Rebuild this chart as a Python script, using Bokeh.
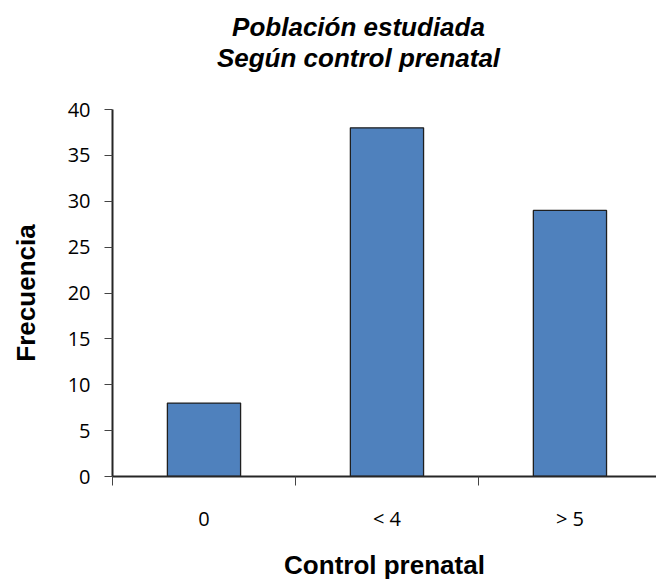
from bokeh.plotting import figure
from bokeh.layouts import column
from bokeh.models import Range1d, FixedTicker, ColumnDataSource
from bokeh.core.properties import value
from bokeh.embed import file_html
from bokeh.resources import INLINE

# Frecuencia por número de controles prenatales
categorias = ["0", "< 4", "> 5"]
frecuencia = [8, 38, 29]
y_ticks = [0, 5, 10, 15, 20, 25, 30, 35, 40]

titulo = ["Población estudiada", "Según control prenatal"]

W, H_TIT, H_TOT, MARGEN_IZQ = 656, 90, 582, 112

# Cabecera con el título en dos líneas (coordenadas en píxeles)
cab = figure(width=W, height=H_TIT,
             x_range=Range1d(MARGEN_IZQ, W), y_range=Range1d(H_TIT, 0),
             output_backend="svg", toolbar_location=None, title=None,
             x_axis_location=None, y_axis_location=None,
             min_border_left=MARGEN_IZQ, min_border_right=0,
             min_border_top=0, min_border_bottom=0,
             outline_line_color=None)
cab.grid.visible = False
cab.text(x=[358, 358], y=[26, 57], text=titulo,
         text_font=value("Liberation Sans"), text_font_style="bold italic",
         text_font_size="26px", text_color="black", text_align="center",
         text_baseline="alphabetic")

centros = [i + 0.5 for i in range(len(categorias))]
source = ColumnDataSource(dict(x=centros, top=frecuencia, cat=categorias))

p = figure(
    width=W, height=H_TOT - H_TIT,
    x_range=Range1d(0, 2.973), y_range=Range1d(0, 40),
    output_backend="svg", toolbar_location=None, title=None,
    min_border_left=MARGEN_IZQ, min_border_right=0,
    min_border_top=109 - H_TIT, min_border_bottom=104,
    outline_line_color=None, background_fill_color="white",
    border_fill_color="white",
)

p.vbar(x="x", top="top", width=0.4, source=source,
       fill_color="#4f81bd", line_color="#1f1f1f", line_width=1.3)

p.xgrid.visible = False
p.ygrid.visible = False

# Eje X: etiquetas al centro de cada categoría, marcas en los límites
xa = p.xaxis[0]
xa.ticker = FixedTicker(ticks=centros, minor_ticks=list(range(len(categorias) + 1)))
xa.major_label_overrides = {c: lab for c, lab in zip(centros, categorias)}
xa.major_tick_out = 0
xa.major_tick_in = 0
xa.minor_tick_out = 9
xa.minor_tick_in = 0
xa.minor_tick_line_color = "#444444"
xa.axis_line_color = "#262626"
xa.axis_line_width = 2
xa.major_label_standoff = 19
xa.major_label_text_font = "Open Sans"
xa.major_label_text_font_size = "20px"
xa.major_label_text_color = "black"
xa.axis_label = "Control prenatal"
xa.axis_label_text_font = "Liberation Sans"
xa.axis_label_text_font_style = "bold"
xa.axis_label_text_font_size = "26px"
xa.axis_label_text_color = "black"
xa.axis_label_standoff = 15

ya = p.yaxis[0]
ya.ticker = FixedTicker(ticks=y_ticks, minor_ticks=[])
ya.major_tick_out = 8
ya.major_tick_in = 0
ya.major_tick_line_color = "#444444"
ya.axis_line_color = "#262626"
ya.axis_line_width = 2
ya.major_label_standoff = 14
ya.major_label_text_font = "Open Sans"
ya.major_label_text_font_size = "20px"
ya.major_label_text_color = "black"
ya.axis_label = "Frecuencia"
ya.axis_label_text_font = "Liberation Sans"
ya.axis_label_text_font_style = "bold"
ya.axis_label_text_font_size = "26px"
ya.axis_label_text_color = "black"
ya.axis_label_standoff = 24

open("out.html", "w").write(file_html(column(cab, p, spacing=0), INLINE))
